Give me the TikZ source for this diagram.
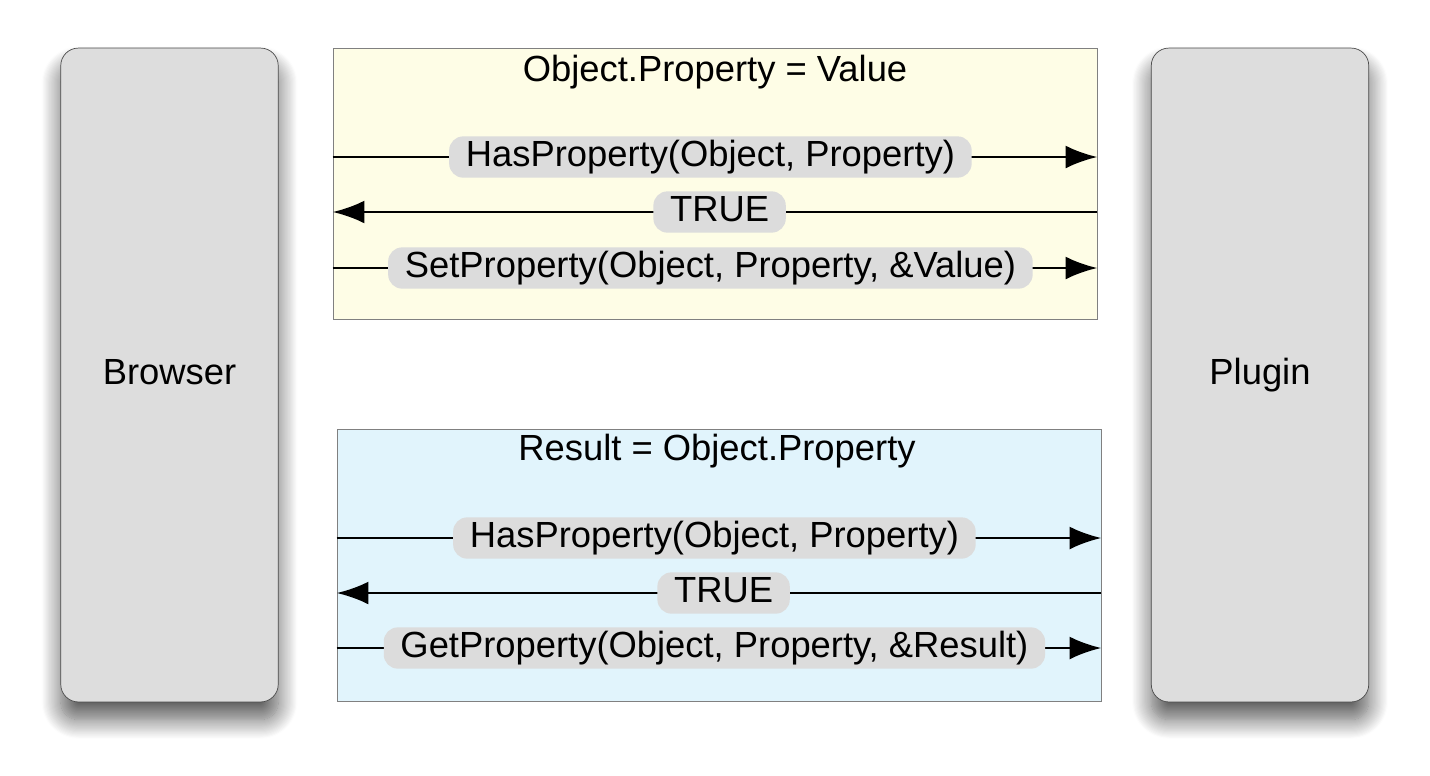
\documentclass[tikz,border=0pt]{standalone}
\usepackage{fontspec}
\setmainfont{Liberation Sans}
\usetikzlibrary{arrows.meta,shadows.blur}
\definecolor{sidegray}{HTML}{DDDDDD}
\definecolor{pillgray}{HTML}{DCDCDC}
\definecolor{setyellow}{HTML}{FEFDE6}
\definecolor{getblue}{HTML}{E1F4FC}
\tikzset{
  every picture/.style={
    >={Latex[width=13pt, length=18pt]}
  },
  every node/.style={
    font=\fontsize{20.7pt}{24pt}\selectfont
  },
  side/.style={
    draw=black!70, fill=sidegray, rounded corners=10pt,
    minimum width=4.35cm, minimum height=13.08cm,
    text height=15pt, text depth=4.5pt,
    blur shadow={shadow xshift=0pt, shadow yshift=-10pt,
      shadow blur radius=11pt, shadow blur steps=18,
      shadow opacity=65}
  },
  area/.style={
    draw=black!50, minimum width=15.28cm, minimum height=5.43cm
  },
  pill/.style={
    fill=pillgray, rounded corners=8pt, inner xsep=9.5pt,
    inner ysep=2pt, text height=15pt, text depth=4.5pt, pos=0.494
  },
  msg/.style={line width=1.5pt}
}
\begin{document}
\begin{tikzpicture}[x=0.02cm, y=-0.02cm]
  \useasboundingbox (0,0) rectangle (1430,775);
  \node [side] (browser) at (169.5,375) {Browser};
  \node [side] (plugin) at (1260,375) {Plugin};
  \node [area, fill=setyellow] (setbox) at (715,184) {};
  \node [area, fill=getblue] (getbox) at (719,565.5) {};
  \node (settitle) at (715,72) {Object.Property = Value};
  \node (gettitle) at (717,451) {Result = Object.Property};
  % setting a property
  \coordinate (s1l) at (setbox.west |- 0,157);
  \coordinate (s1r) at (setbox.east |- 0,157);
  \coordinate (s2l) at (setbox.west |- 0,212);
  \coordinate (s2r) at (setbox.east |- 0,212);
  \coordinate (s3l) at (setbox.west |- 0,268);
  \coordinate (s3r) at (setbox.east |- 0,268);
  \draw [msg,->] (s1l) -- node [pill] (s1m) {HasProperty(Object, Property)} (s1r);
  \draw [msg,->] (s2r) -- node [pill] (s2m) {TRUE} (s2l);
  \draw [msg,->] (s3l) -- node [pill] (s3m) {SetProperty(Object, Property, \&Value)} (s3r);
  % getting a property
  \coordinate (g1l) at (getbox.west |- 0,538);
  \coordinate (g1r) at (getbox.east |- 0,538);
  \coordinate (g2l) at (getbox.west |- 0,593);
  \coordinate (g2r) at (getbox.east |- 0,593);
  \coordinate (g3l) at (getbox.west |- 0,648);
  \coordinate (g3r) at (getbox.east |- 0,648);
  \draw [msg,->] (g1l) -- node [pill] (g1m) {HasProperty(Object, Property)} (g1r);
  \draw [msg,->] (g2r) -- node [pill] (g2m) {TRUE} (g2l);
  \draw [msg,->] (g3l) -- node [pill] (g3m) {GetProperty(Object, Property, \&Result)} (g3r);
\end{tikzpicture}
\end{document}
